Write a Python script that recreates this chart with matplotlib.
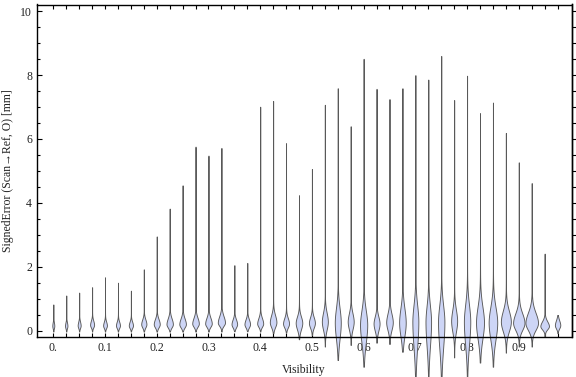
import numpy as np
import matplotlib
matplotlib.use("Agg")
import matplotlib.pyplot as plt
from matplotlib.ticker import MultipleLocator, FixedLocator

# ---------------- data ----------------
visibility = [0.0, 0.025, 0.05, 0.075, 0.1, 0.125, 0.15, 0.175, 0.2, 0.225,
              0.25, 0.275, 0.3, 0.325, 0.35, 0.375, 0.4, 0.425, 0.45, 0.475,
              0.5, 0.525, 0.55, 0.575, 0.6, 0.625, 0.65, 0.675, 0.7, 0.725,
              0.75, 0.775, 0.8, 0.825, 0.85, 0.875, 0.9, 0.925, 0.95, 0.975]

err_max = [0.82, 1.10, 1.19, 1.36, 1.67, 1.50, 1.25, 1.92, 2.95, 3.82,
           4.55, 5.76, 5.48, 5.72, 2.05, 2.12, 7.01, 7.19, 5.87, 4.24,
           5.06, 7.07, 7.59, 6.40, 8.51, 7.57, 7.25, 7.59, 8.00, 7.86,
           8.60, 7.22, 7.98, 6.81, 7.14, 6.19, 5.27, 4.62, 2.41, 0.49]

err_min = [-0.03, -0.03, -0.03, -0.03, -0.03, -0.03, -0.03, -0.03, -0.03, -0.03,
           -0.03, -0.03, -0.03, -0.03, -0.02, -0.02, -0.03, -0.08, -0.06, -0.27,
           -0.14, -0.50, -0.92, -0.45, -1.13, -0.38, -0.42, -0.66, -2.00, -1.80,
           -1.90, -0.84, -1.70, -1.00, -1.13, -0.69, -0.50, -0.50, -0.20, -0.08]

err_mode = [0.15, 0.15, 0.16, 0.18, 0.16, 0.16, 0.16, 0.20, 0.20, 0.20,
            0.20, 0.22, 0.22, 0.25, 0.20, 0.20, 0.22, 0.26, 0.22, 0.24,
            0.24, 0.28, 0.25, 0.28, 0.18, 0.22, 0.26, 0.25, 0.28, 0.27,
            0.27, 0.30, 0.28, 0.25, 0.25, 0.28, 0.24, 0.24, 0.14, 0.17]

spread_up = [0.11, 0.11, 0.12, 0.13, 0.12, 0.12, 0.12, 0.15, 0.16, 0.18,
             0.18, 0.18, 0.18, 0.20, 0.15, 0.15, 0.17, 0.22, 0.17, 0.20,
             0.18, 0.28, 0.45, 0.26, 0.45, 0.22, 0.27, 0.45, 0.52, 0.50,
             0.52, 0.35, 0.52, 0.50, 0.48, 0.34, 0.30, 0.32, 0.15, 0.15]

spread_down = [0.08, 0.08, 0.08, 0.08, 0.08, 0.08, 0.08, 0.10, 0.10, 0.10,
               0.10, 0.10, 0.10, 0.10, 0.10, 0.10, 0.10, 0.15, 0.12, 0.20,
               0.15, 0.25, 0.50, 0.24, 0.55, 0.22, 0.24, 0.42, 0.80, 0.75,
               0.80, 0.33, 0.72, 0.50, 0.52, 0.30, 0.22, 0.22, 0.10, 0.10]

peak_density = [1.0, 1.2, 1.5, 2.0, 1.9, 2.0, 2.1, 2.6, 3.0, 3.2,
                3.3, 3.3, 3.3, 3.6, 2.8, 2.8, 3.0, 3.3, 3.0, 3.3,
                3.0, 3.0, 3.0, 3.0, 3.6, 3.0, 3.3, 3.3, 3.0, 2.8,
                3.2, 3.0, 3.2, 4.0, 4.3, 5.0, 5.7, 6.3, 4.3, 2.7]

x_major = [0.0, 0.1, 0.2, 0.3, 0.4, 0.5, 0.6, 0.7, 0.8, 0.9]
x_labels = ["0.", "0.1", "0.2", "0.3", "0.4", "0.5", "0.6", "0.7", "0.8", "0.9"]
y_major = [0, 2, 4, 6, 8, 10]
y_labels = ["0", "2", "4", "6", "8", "10"]

# ---------------- figure ----------------
W, H = 576, 377
fig = plt.figure(figsize=(W / 100, H / 100), dpi=100)
L, R, T, B = 36.5, 571.5, 4.5, 337.0
ax = fig.add_axes([L / W, 1 - B / H, (R - L) / W, (B - T) / H])

serif = ["Liberation Serif", "DejaVu Serif"]
txt_color = "#222222"

vpstats = []
for k in range(len(visibility)):
    y = np.linspace(err_min[k], err_max[k], 800)
    u = y - err_mode[k]
    s = np.where(u >= 0, spread_up[k], spread_down[k])
    dens = np.exp(-0.5 * (u / s) ** 2) + 0.08 * np.exp(-np.abs(u) / (2.5 * s))
    vpstats.append(dict(coords=y, vals=dens, mean=err_mode[k], median=err_mode[k],
                        min=err_min[k], max=err_max[k], quantiles=[]))

unit_per_px = (1.0019 + 0.0325) / (R - L)
widths = [2 * p * unit_per_px for p in peak_density]
parts = ax.violin(vpstats, positions=visibility, widths=widths,
                  showmeans=False, showextrema=False, showmedians=False)
for body in parts["bodies"]:
    body.set_facecolor("#CDD5F6")
    body.set_edgecolor("#585858")
    body.set_linewidth(0.65)
    body.set_alpha(1)
    body.set_clip_on(False)
    body.set_zorder(3)

ax.set_xlim(-0.0325, 1.0019)
ax.set_ylim(-0.20, 10.21)

# x ticks
ax.xaxis.set_major_locator(FixedLocator(x_major))
ax.set_xticklabels(x_labels)
ax.xaxis.set_minor_locator(FixedLocator(visibility))
ax.tick_params(axis="x", which="both", direction="in", top=True, bottom=True,
               length=2.9, width=0.8, pad=3.4, labelsize=8.5, colors="black",
               labelcolor=txt_color)

# y ticks (left inward)
ax.yaxis.set_major_locator(FixedLocator(y_major))
ax.set_yticklabels(y_labels)
ax.yaxis.set_minor_locator(MultipleLocator(0.5))
ax.tick_params(axis="y", which="major", direction="in", left=True, right=False,
               length=3.4, width=0.8, pad=3.2, labelsize=8.5, labelcolor=txt_color)
ax.tick_params(axis="y", which="minor", direction="in", left=True, right=False,
               length=2.2, width=0.8)

# right ticks outward
sec = ax.secondary_yaxis("right")
sec.yaxis.set_major_locator(FixedLocator(y_major))
sec.yaxis.set_minor_locator(MultipleLocator(0.5))
sec.tick_params(axis="y", which="major", direction="out", length=3.4, width=0.8,
                labelright=False)
sec.tick_params(axis="y", which="minor", direction="out", length=3.4, width=0.8)
sec.spines["right"].set_linewidth(1.0)

for lab in ax.get_xticklabels() + ax.get_yticklabels():
    lab.set_family(serif)

for sp in ax.spines.values():
    sp.set_linewidth(1.0)
    sp.set_zorder(4)

ax.set_xlabel("Visibility", family=serif, fontsize=8.5, color=txt_color)
ax.xaxis.label.set_va("baseline")
ax.xaxis.set_label_coords(0.5, (B - 373) / (B - T))

ax.set_ylabel("SignedError (Scan\u2192Ref, O) [mm]", family=serif, fontsize=8.5,
              color=txt_color)
ax.yaxis.label.set_va("center")
ax.yaxis.set_label_coords((8 - L) / (R - L), 0.5)

fig.savefig("out.png", dpi=100)
